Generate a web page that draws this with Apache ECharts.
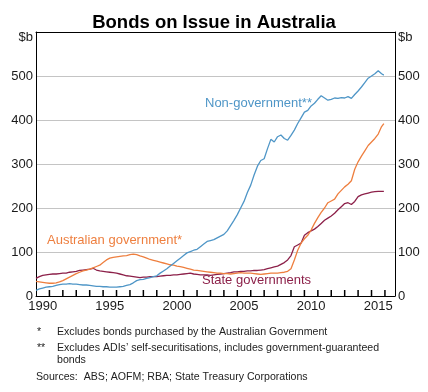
<!DOCTYPE html>
<html>
<head>
<meta charset="utf-8">
<script src="https://cdn.jsdelivr.net/npm/echarts@6/dist/echarts.min.js"></script>
<style>html,body{margin:0;padding:0;background:#fff;}#c{width:428px;height:392px;}</style>
</head>
<body>
<div id="c"></div>
<script>
// Quarterly dates (decimal years), last point Nov 2015
const dates = [];
for (let y = 1990; y <= 2015; y++) { for (let q = 0; q < 4; q++) dates.push(y + q * 0.25); }
dates.push(2015.92);

const nonGovernment = [
  13, 16, 18, 20,   21, 22, 24, 26,   27, 27, 28, 27,   27, 26, 25, 25,
  24, 23, 22, 22,   21, 21, 20, 20,   20, 21, 22, 24,   26, 30, 35, 37,
  38, 40, 42, 44,   46, 52, 57, 62,   68, 74, 80, 86,   92, 98, 101, 104,
  106, 112, 118, 124, 126, 128, 132, 136, 140, 148, 160, 172, 185, 200, 215, 235,
  252, 275, 295, 308, 312, 335, 356, 350, 362, 366, 358, 354, 365, 377, 392, 405,
  418, 422, 432, 438, 447, 455, 450, 445, 447, 450, 449, 451, 450, 453, 449, 458,
  466, 475, 485, 495, 500, 505, 512, 505, 502
];
const australianGovernment = [
  33, 32, 31, 30,   29, 29, 30, 32,   35, 39, 43, 47,   51, 54, 57, 59,
  61, 64, 67, 70,   76, 82, 86, 88,   89, 90, 91, 92,   94, 95, 94, 91,
  89, 86, 83, 81,   79, 77, 75, 73,   71, 70, 68, 67,   65, 63, 61, 59,
  58, 57, 56, 55,   54, 53, 52, 52,   51, 51, 50, 51,   52, 53, 52, 52,
  52, 51, 50, 49,   50, 51, 52, 52,   52, 53, 54, 56,   62, 82, 104, 120,
  130, 138, 150, 165, 178, 190, 200, 212, 216, 220, 232, 240, 248, 254, 262, 288,
  305, 318, 330, 342, 350, 358, 368, 385, 392
];
const stateGovernments = [
  40, 44, 47, 48,   49, 50, 50, 51,   52, 52, 54, 55,   56, 58, 59, 60,
  61, 63, 59, 57,   56, 55, 54, 53,   52, 50, 48, 46,   45, 44, 43, 42,
  43, 43, 44, 44,   44, 45, 46, 47,   47, 48, 48, 49,   50, 51, 52, 50,
  49, 48, 48, 48,   47, 48, 49, 50,   51, 52, 53, 55,   55, 56, 56, 57,
  57, 58, 58, 59,   60, 62, 64, 66,   68, 72, 76, 82,   92, 112, 116, 120,
  138, 144, 148, 152, 158, 165, 172, 177, 182, 188, 196, 203, 210, 212, 208, 215,
  226, 230, 232, 234, 236, 237, 238, 238, 238
];
const yearTicks = [];
for (let y = 1991; y <= 2016; y++) yearTicks.push(y);
const yearLabels = [1990, 1995, 2000, 2005, 2010, 2015];

const pair = arr => arr.map((v, i) => [dates[i], v]);
const BLUE = '#4f96c7', ORANGE = '#ee7f3f', MAROON = '#8c2049';
const FONT = 'Arial, Liberation Sans, sans-serif';

const chart = echarts.init(document.getElementById('c'));
const yLabelFmt = v => v === 600 ? '{u|$b}' : String(v);
const labelStyle = {fontFamily: FONT, fontSize: 13, color: '#1a1a1a'};
const rich = {u: {fontFamily: FONT, fontSize: 13, color: '#1a1a1a', padding: [10, 0, 0, 0]}};
chart.setOption({
  animation: false,
  backgroundColor: '#fff',
  title: {
    text: 'Bonds on Issue in Australia', left: 'center', top: 8,
    textStyle: {fontFamily: FONT, fontSize: 18.5, fontWeight: 'bold', color: '#000'}
  },
  grid: {left: 36, right: 33, top: 32, bottom: 96},
  xAxis: [{
    type: 'value', min: 1990, max: 2016.75, position: 'bottom',
    axisLine: {show: true, onZero: false, lineStyle: {color: '#000', width: 1}},
    axisTick: {show: false},
    axisLabel: Object.assign({customValues: yearLabels.map(y => y + 0.5), formatter: v => String(Math.floor(v)), margin: 4}, labelStyle),
    splitLine: {show: false}
  }, {
    type: 'value', min: 1990, max: 2016.75, position: 'top',
    axisLine: {show: true, onZero: false, lineStyle: {color: '#000', width: 1}},
    axisTick: {show: false}, axisLabel: {show: false}, splitLine: {show: false}
  }],
  yAxis: [{
    type: 'value', min: 0, max: 600, interval: 100, position: 'left',
    axisLine: {show: true, lineStyle: {color: '#000'}},
    axisTick: {show: false},
    axisLabel: Object.assign({formatter: yLabelFmt, margin: 3, rich: rich}, labelStyle),
    splitLine: {show: true, lineStyle: {color: '#c4c4c4', width: 1}}
  }, {
    type: 'value', min: 0, max: 600, interval: 100, position: 'right',
    axisLine: {show: true, lineStyle: {color: '#000'}},
    axisTick: {show: false},
    axisLabel: Object.assign({formatter: yLabelFmt, margin: 3, rich: rich}, labelStyle),
    splitLine: {show: false}
  }],
  series: [
    {
      type: 'custom', xAxisIndex: 0, yAxisIndex: 0, z: 5,
      data: yearTicks.map(y => [y, 0]),
      renderItem: (params, api) => {
        const p = api.coord([api.value(0), 0]);
        return {type: 'line', shape: {x1: p[0], y1: p[1], x2: p[0], y2: p[1] - 6}, style: {stroke: '#000', lineWidth: 1.5}};
      }
    },
    {name: 'State governments', type: 'line', data: pair(stateGovernments), showSymbol: false, lineStyle: {color: MAROON, width: 1.3}, itemStyle: {color: MAROON}},
    {name: 'Australian government*', type: 'line', data: pair(australianGovernment), showSymbol: false, lineStyle: {color: ORANGE, width: 1.3}, itemStyle: {color: ORANGE}},
    {name: 'Non-government**', type: 'line', data: pair(nonGovernment), showSymbol: false, lineStyle: {color: BLUE, width: 1.3}, itemStyle: {color: BLUE}}
  ],
  graphic: [
    {type: 'text', left: 205, top: 97, style: {text: 'Non-government**', fill: BLUE, font: '13px ' + FONT}},
    {type: 'text', left: 47, top: 234, style: {text: 'Australian government*', fill: ORANGE, font: '13px ' + FONT}},
    {type: 'text', left: 202, top: 274, style: {text: 'State governments', fill: MAROON, font: '13px ' + FONT}},
    {type: 'text', left: 37, top: 327, style: {text: '*', fill: '#222', font: '10.6px ' + FONT}},
    {type: 'text', left: 57, top: 327, style: {text: 'Excludes bonds purchased by the Australian Government', fill: '#222', font: '10.6px ' + FONT}},
    {type: 'text', left: 37, top: 343, style: {text: '**', fill: '#222', font: '10.6px ' + FONT}},
    {type: 'text', left: 57, top: 343, style: {text: 'Excludes ADIs\u2019 self-securitisations, includes government-guaranteed', fill: '#222', font: '10.6px ' + FONT}},
    {type: 'text', left: 57, top: 355, style: {text: 'bonds', fill: '#222', font: '10.6px ' + FONT}},
    {type: 'text', left: 36, top: 372, style: {text: 'Sources:  ABS; AOFM; RBA; State Treasury Corporations', fill: '#222', font: '10.6px ' + FONT}}
  ]
});
</script>
</body>
</html>
